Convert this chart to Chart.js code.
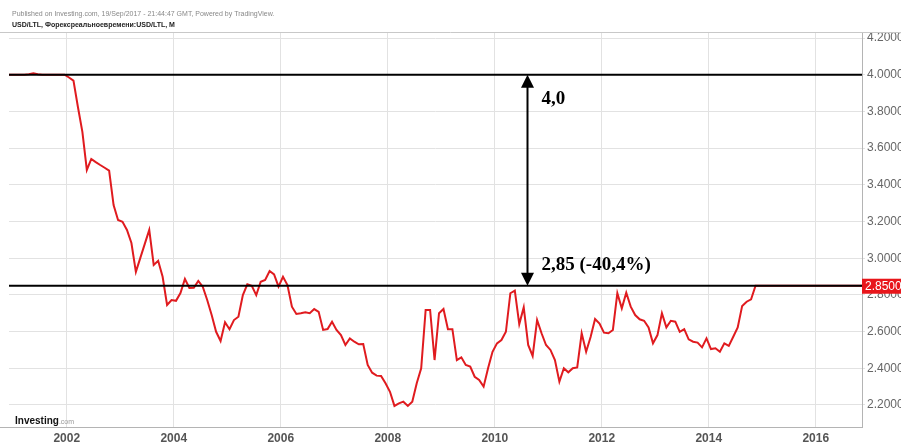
<!DOCTYPE html>
<html>
<head>
<meta charset="utf-8">
<script src="https://cdn.jsdelivr.net/npm/chart.js@4.4.0/dist/chart.umd.min.js"></script>
<style>
  html, body { margin: 0; padding: 0; background: #fff; }
  #wrap { width: 901px; height: 443px; }
</style>
</head>
<body>
<div id="wrap"><canvas id="usdLtlChart" width="901" height="443"></canvas></div>
<script>
// monthly USD/LTL, first value = Nov 2000
const firstYear = 2000;
const firstMonth = 10; // 0 = Jan
const usdLtl = [
  4.000, 4.000,
  4.000, 4.000, 4.000, 4.003, 4.008, 4.003, 4.000, 4.000, 4.000, 4.000, 4.000, 4.000,
  3.985, 3.968, 3.824, 3.689, 3.481, 3.541, 3.524, 3.508, 3.493, 3.477, 3.290, 3.208,
  3.199, 3.154, 3.083, 2.926, 3.002, 3.078, 3.154, 2.963, 2.986, 2.899, 2.745, 2.772,
  2.768, 2.810, 2.887, 2.838, 2.839, 2.876, 2.845, 2.772, 2.690, 2.599, 2.549, 2.651,
  2.613, 2.663, 2.681, 2.799, 2.858, 2.849, 2.799, 2.872, 2.881, 2.930, 2.912, 2.845,
  2.899, 2.854, 2.736, 2.696, 2.700, 2.705, 2.700, 2.723, 2.708, 2.609, 2.614, 2.654,
  2.609, 2.581, 2.527, 2.563, 2.545, 2.531, 2.532, 2.418, 2.376, 2.360, 2.358, 2.318,
  2.272, 2.195, 2.209, 2.218, 2.195, 2.218, 2.318, 2.400, 2.718, 2.718, 2.445, 2.700,
  2.723, 2.613, 2.613, 2.445, 2.460, 2.418, 2.409, 2.354, 2.336, 2.300, 2.400, 2.490,
  2.536, 2.554, 2.599, 2.809, 2.823, 2.641, 2.732, 2.527, 2.467, 2.663, 2.591, 2.527,
  2.500, 2.445, 2.327, 2.400, 2.378, 2.400, 2.405, 2.591, 2.490, 2.571, 2.669, 2.644,
  2.594, 2.591, 2.609, 2.809, 2.727, 2.812, 2.736, 2.690, 2.667, 2.659, 2.623, 2.536,
  2.581, 2.700, 2.623, 2.659, 2.654, 2.599, 2.613, 2.558, 2.545, 2.540, 2.514, 2.563,
  2.505, 2.509, 2.490, 2.536, 2.522, 2.572, 2.623, 2.740, 2.763, 2.776, 2.850, 2.850,
  2.850, 2.850, 2.850, 2.850, 2.850, 2.850, 2.850, 2.850, 2.850, 2.850, 2.850, 2.850,
  2.850, 2.850, 2.850, 2.850, 2.850, 2.850, 2.850, 2.850, 2.850, 2.850, 2.850, 2.850
];
const xTicks = [2002, 2004, 2006, 2008, 2010, 2012, 2014, 2016];
const yTicks = [2.2, 2.4, 2.6, 2.8, 3.0, 3.2, 3.4, 3.6, 3.8, 4.0, 4.2];
const levelLines = [4.0, 2.85];
const levelLabels = ['4,0', '2,85 (-40,4%)'];
const arrowX = 2010.6;
const lastPrice = 2.85;
const headerLine1 = 'Published on Investing.com, 19/Sep/2017 - 21:44:47 GMT, Powered by TradingView.';
const headerLine2 = 'USD/LTL, Форексреальноевремени:USD/LTL, M';

// place each monthly value in the middle of its month
const points = usdLtl.map((v, i) => ({ x: firstYear + (firstMonth + i + 0.5) / 12, y: v }));

const overlay = {
  id: 'overlay',
  beforeDraw(chart) {
    const ctx = chart.ctx;
    ctx.save();
    ctx.fillStyle = '#fff';
    ctx.fillRect(0, 0, chart.width, chart.height);
    ctx.restore();
  },
  afterDatasetsDraw(chart) {
    const { ctx, chartArea: a, scales: { x, y } } = chart;
    ctx.save();
    // black level lines
    ctx.strokeStyle = '#000';
    ctx.lineWidth = 2;
    levelLines.forEach(v => {
      const py = y.getPixelForValue(v);
      ctx.beginPath();
      ctx.moveTo(a.left, py);
      ctx.lineTo(a.right, py);
      ctx.stroke();
    });
    // double arrow between the two levels
    const ax = Math.round(x.getPixelForValue(arrowX)) + 0.5;
    const yTop = y.getPixelForValue(levelLines[0]);
    const yBot = y.getPixelForValue(levelLines[1]);
    ctx.beginPath();
    ctx.moveTo(ax, yTop + 10);
    ctx.lineTo(ax, yBot - 10);
    ctx.stroke();
    ctx.fillStyle = '#000';
    ctx.beginPath();
    ctx.moveTo(ax, yTop);
    ctx.lineTo(ax - 6.5, yTop + 13);
    ctx.lineTo(ax + 6.5, yTop + 13);
    ctx.closePath();
    ctx.fill();
    ctx.beginPath();
    ctx.moveTo(ax, yBot);
    ctx.lineTo(ax - 6.5, yBot - 13);
    ctx.lineTo(ax + 6.5, yBot - 13);
    ctx.closePath();
    ctx.fill();
    // labels next to the arrow
    ctx.font = 'bold 19px "Liberation Serif", "Times New Roman", serif';
    ctx.textBaseline = 'middle';
    ctx.textAlign = 'left';
    ctx.fillText(levelLabels[0], ax + 14, yTop + 24);
    ctx.fillText(levelLabels[1], ax + 14, yBot - 21);
    ctx.restore();
  },
  afterDraw(chart) {
    const { ctx, chartArea: a, scales: { y } } = chart;
    ctx.save();
    // frame line above the plot
    ctx.strokeStyle = '#c8c8c8';
    ctx.lineWidth = 1;
    ctx.beginPath();
    ctx.moveTo(0, a.top + 0.5);
    ctx.lineTo(chart.width, a.top + 0.5);
    ctx.stroke();
    ctx.strokeStyle = '#b4b4b4';
    ctx.beginPath();
    ctx.moveTo(0, a.bottom + 0.5);
    ctx.lineTo(a.left, a.bottom + 0.5);
    ctx.stroke();
    // header
    ctx.textAlign = 'left';
    ctx.textBaseline = 'alphabetic';
    ctx.fillStyle = '#888';
    ctx.font = '7px "Liberation Sans", Arial, sans-serif';
    ctx.fillText(headerLine1, 12, 16);
    ctx.fillStyle = '#222';
    ctx.font = 'bold 7px "Liberation Sans", Arial, sans-serif';
    ctx.fillText(headerLine2, 12, 27);
    // price tag on the axis
    const py = y.getPixelForValue(lastPrice);
    ctx.fillStyle = '#e8161b';
    ctx.fillRect(a.right, py - 7, chart.width - a.right, 15);
    ctx.fillStyle = '#fff';
    ctx.font = '12px "Liberation Sans", Arial, sans-serif';
    ctx.textBaseline = 'middle';
    ctx.fillText(lastPrice.toFixed(4), a.right + 3, py + 1);
    // logo
    ctx.textBaseline = 'alphabetic';
    ctx.fillStyle = '#111';
    ctx.font = 'bold 10px "Liberation Sans", Arial, sans-serif';
    ctx.fillText('Investing', 15, 424);
    const w = ctx.measureText('Investing').width;
    ctx.fillStyle = '#999';
    ctx.font = '7px "Liberation Sans", Arial, sans-serif';
    ctx.fillText('.com', 15 + w, 424);
    ctx.restore();
  }
};

new Chart(document.getElementById('usdLtlChart'), {
  type: 'line',
  data: {
    datasets: [{
      data: points,
      borderColor: '#e01b1f',
      borderWidth: 2,
      pointRadius: 0,
      tension: 0,
      fill: false
    }]
  },
  options: {
    responsive: false,
    animation: false,
    layout: { padding: { left: 9, top: 32, right: 0, bottom: 0 } },
    plugins: {
      legend: { display: false },
      tooltip: { enabled: false }
    },
    scales: {
      x: {
        type: 'linear',
        min: 2000.92,
        max: 2016.865,
        afterBuildTicks: s => { s.ticks = xTicks.map(v => ({ value: v })); },
        afterFit: s => { s.height = 16; },
        grid: { color: '#e2e2e2', drawTicks: false },
        border: { color: '#b4b4b4' },
        ticks: {
          color: '#555',
          padding: 4,
          maxRotation: 0,
          font: { family: '"Liberation Sans", Arial, sans-serif', size: 12, weight: 'bold' },
          callback: v => String(v)
        }
      },
      y: {
        position: 'right',
        min: 2.08,
        max: 4.233,
        afterBuildTicks: s => { s.ticks = yTicks.map(v => ({ value: v })); },
        afterFit: s => { s.width = 39; },
        grid: { color: '#e2e2e2', tickLength: 3 },
        border: { color: '#b4b4b4' },
        ticks: {
          color: '#666',
          padding: 2,
          font: { family: '"Liberation Sans", Arial, sans-serif', size: 12 },
          callback: v => Number(v).toFixed(4)
        }
      }
    }
  },
  plugins: [overlay]
});
</script>
</body>
</html>
